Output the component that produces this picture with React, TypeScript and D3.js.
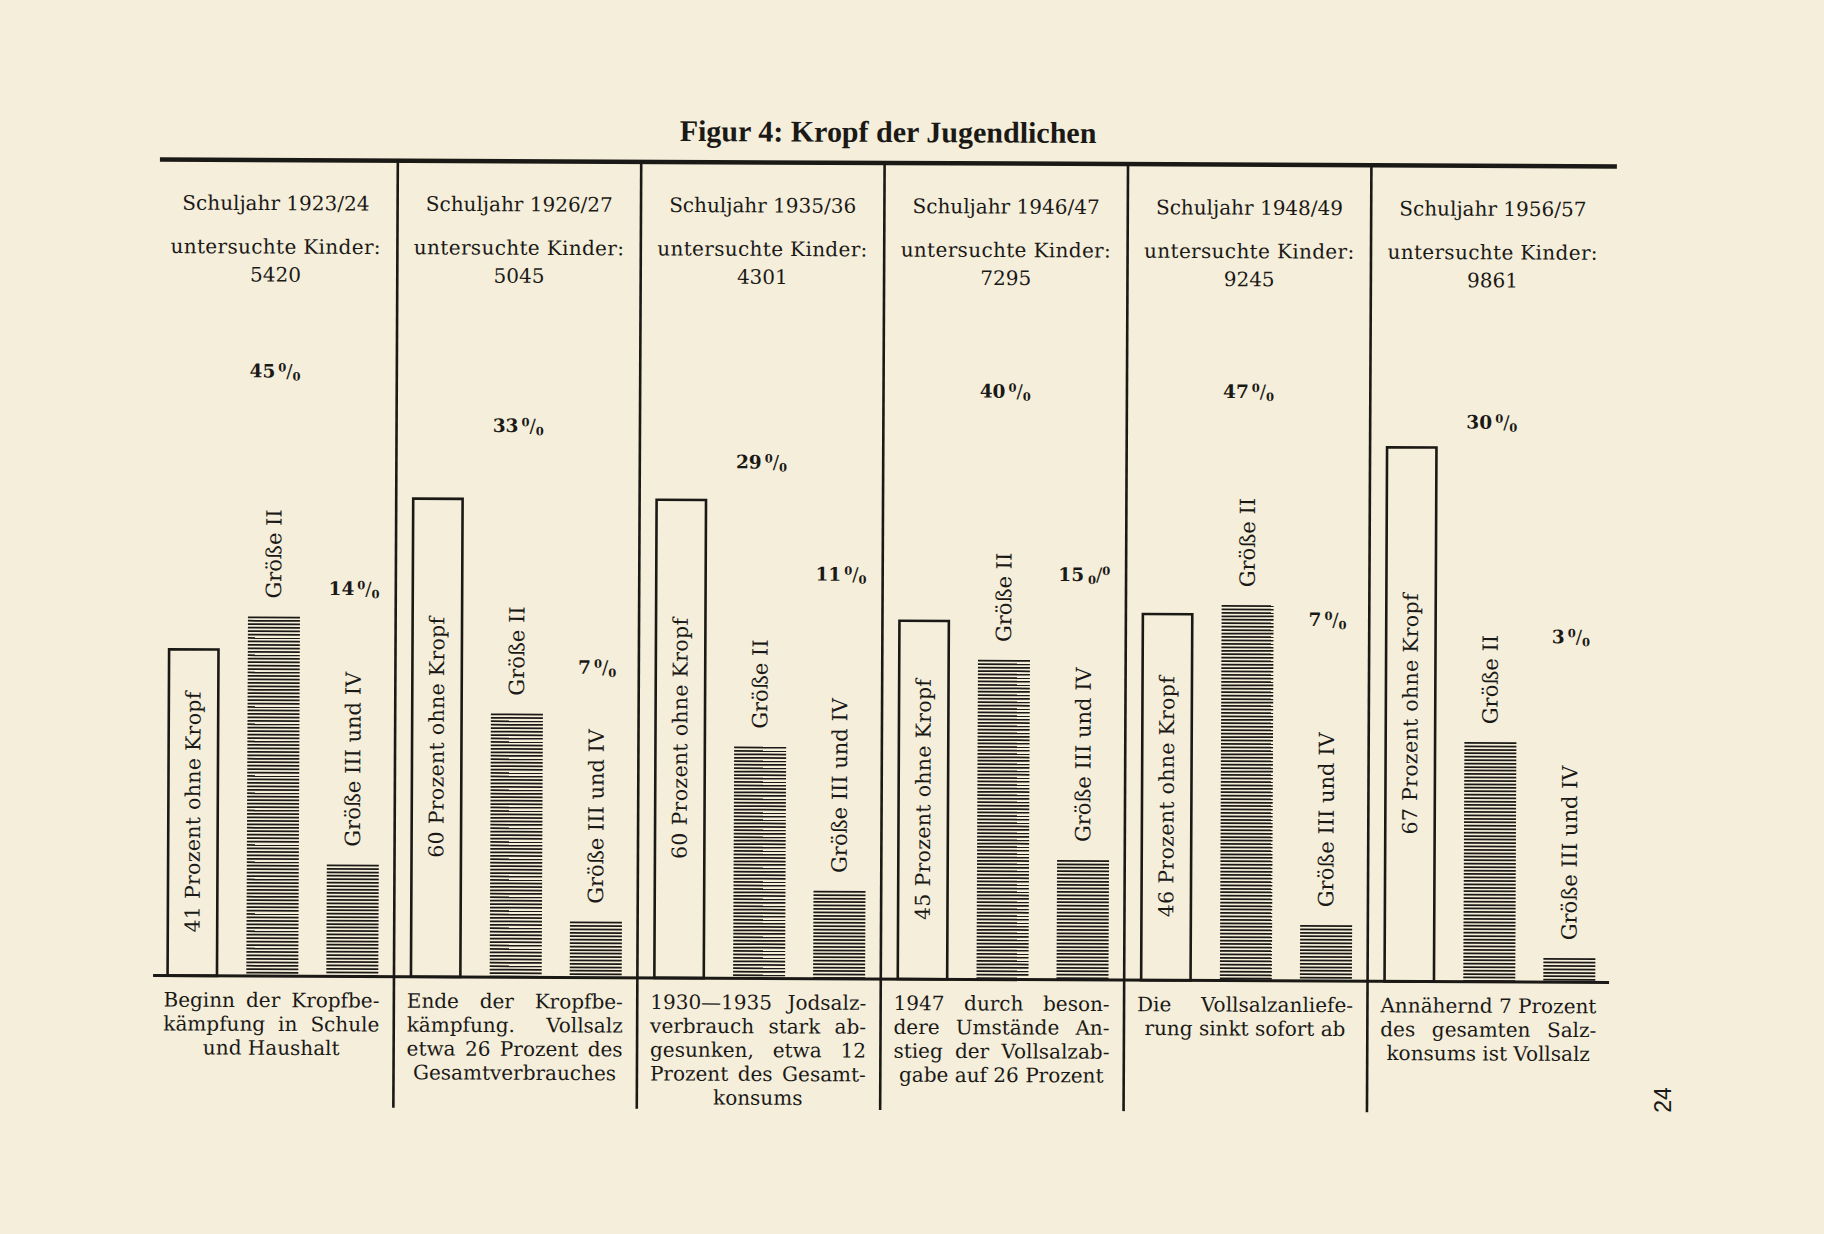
import React, { useEffect, useRef } from "react";
import * as d3 from "d3";

// ---------- data ----------
const years = ["1923/24", "1926/27", "1935/36", "1946/47", "1948/49", "1956/57"];
const childrenExamined = [5420, 5045, 4301, 7295, 9245, 9861];
const categories = ["ohne Kropf", "Größe II", "Größe III und IV"];
const pctOhneKropf = [41, 60, 60, 45, 46, 67];
const pctGroesse2 = [45, 33, 29, 40, 47, 30];
const pctGroesse34 = [14, 7, 11, 15, 7, 3];
const notes: string[][] = [
  ["Beginn der Kropfbe-", "kämpfung in Schule", "und Haushalt"],
  ["Ende der Kropfbe-", "kämpfung. Vollsalz", "etwa 26 Prozent des", "Gesamtverbrauches"],
  ["1930—1935 Jodsalz-", "verbrauch stark ab-", "gesunken, etwa 12", "Prozent des Gesamt-", "konsums"],
  ["1947 durch beson-", "dere Umstände An-", "stieg der Vollsalzab-", "gabe auf 26 Prozent"],
  ["Die Vollsalzanliefe-", "rung sinkt sofort ab"],
  ["Annähernd 7 Prozent", "des gesamten Salz-", "konsums ist Vollsalz"],
];
// level (in percent units of the y scale) where the printed percentage labels sit
const pctLabelLevelG2 = [75.8, 69.1, 64.7, 73.7, 73.8, 70.1];
const pctLabelLevelG34 = [48.6, 38.9, 50.7, 50.8, 45.3, 43.3];
// the 1946/47 small-goitre label is misprinted as "15 ₀/⁰" in the original
const pctSignInverted = [false, false, false, true, false, false];

const TITLE = "Figur 4: Kropf der Jugendlichen";
const PAGE_NO = "24";

// ---------- layout / style ----------
const W = 1824;
const H = 1234;
const PAPER = "#f4eedb";
const INK = "#1b1916";
const SERIF = "'DejaVu Serif', serif";
const FS = 20;
const TILT = 0.27;
const CX = 886;
const CY = 570;
const X0 = 152.5;
const PANEL_W = 243.4;
const TOP_Y = 163;
const BASE = 979;
const DIV_BOTTOM = 1110;
const PX_PER_PCT = 7.99;

export default function App() {
  const ref = useRef<SVGSVGElement>(null);

  useEffect(() => {
    const svg = d3.select(ref.current);
    svg.selectAll("*").remove();
    svg.append("rect").attr("width", W).attr("height", H).attr("fill", PAPER);

    const g = svg.append("g").attr("transform", `rotate(${TILT} ${CX} ${CY})`);

    const x = d3.scaleBand<string>().domain(years).range([X0, X0 + PANEL_W * years.length]);
    const xi = d3
      .scaleBand<string>()
      .domain(categories)
      .range([0, x.bandwidth()])
      .paddingInner(0.35)
      .paddingOuter(0.196);
    const y = d3.scaleLinear().domain([0, 100]).range([BASE, BASE - 100 * PX_PER_PCT]);
    const bw = xi.bandwidth();

    // title
    g.append("text")
      .attr("x", CX)
      .attr("y", 142)
      .attr("text-anchor", "middle")
      .attr("font-family", "'Liberation Serif', serif")
      .attr("font-weight", "bold")
      .attr("font-size", 30)
      .attr("fill", INK)
      .text(TITLE);

    // frame lines
    g.append("line")
      .attr("x1", 158).attr("x2", 1615).attr("y1", TOP_Y).attr("y2", TOP_Y)
      .attr("stroke", INK).attr("stroke-width", 4.5);
    g.append("line")
      .attr("x1", 155).attr("x2", 1611).attr("y1", BASE).attr("y2", BASE)
      .attr("stroke", INK).attr("stroke-width", 3);
    years.slice(1).forEach((yr) => {
      const xx = x(yr)!;
      g.append("line")
        .attr("x1", xx).attr("x2", xx).attr("y1", TOP_Y).attr("y2", DIV_BOTTOM)
        .attr("stroke", INK).attr("stroke-width", 2.6);
    });

    const txt = (sel: d3.Selection<any, any, any, any>) =>
      sel.attr("font-family", SERIF).attr("fill", INK).attr("font-size", FS);

    years.forEach((yr, i) => {
      const px = x(yr)!;
      const pc = px + x.bandwidth() / 2;

      // header
      txt(g.append("text")).attr("x", pc).attr("y", 213).attr("text-anchor", "middle")
        .text(`Schuljahr ${yr}`);
      txt(g.append("text")).attr("x", pc).attr("y", 256.5).attr("text-anchor", "middle")
        .attr("letter-spacing", 0.35)
        .text("untersuchte Kinder:");
      txt(g.append("text")).attr("x", pc).attr("y", 284.5).attr("text-anchor", "middle")
        .text(String(childrenExamined[i]));

      // open box: ohne Kropf
      const bx = px + xi(categories[0])!;
      const v0 = pctOhneKropf[i];
      g.append("rect")
        .attr("x", bx + 1.3)
        .attr("y", y(v0) + 1.3)
        .attr("width", bw - 2.6)
        .attr("height", BASE - y(v0) - 1.3)
        .attr("fill", "none")
        .attr("stroke", INK)
        .attr("stroke-width", 2.6);
      txt(g.append("text"))
        .attr("transform", `translate(${bx + bw / 2},${(y(v0) + BASE) / 2}) rotate(-90)`)
        .attr("text-anchor", "middle")
        .attr("dominant-baseline", "central")
        .attr("font-size", 20.5)
        .attr("letter-spacing", 0.3)
        .text(`${v0} Prozent ohne Kropf`);

      // hatched bars
      const hatched = [
        { cat: categories[1], v: pctGroesse2[i], level: pctLabelLevelG2[i], inv: false },
        { cat: categories[2], v: pctGroesse34[i], level: pctLabelLevelG34[i], inv: pctSignInverted[i] },
      ];
      hatched.forEach((h) => {
        const hx = px + xi(h.cat)!;
        const top = y(h.v);
        const rows = d3.range(top + 0.85, BASE - 0.5, 3.45);
        g.append("g")
          .selectAll("line")
          .data(rows)
          .join("line")
          .attr("x1", hx)
          .attr("x2", hx + bw)
          .attr("y1", (d) => d)
          .attr("y2", (d) => d)
          .attr("stroke", INK)
          .attr("stroke-width", 1.75);

        txt(g.append("text"))
          .attr("transform", `translate(${hx + bw / 2},${top - 18}) rotate(-90)`)
          .attr("text-anchor", "start")
          .attr("dominant-baseline", "central")
          .attr("font-size", 21)
          .text(h.cat);

        const t = txt(g.append("text"))
          .attr("x", hx + bw / 2)
          .attr("y", y(h.level) + 7)
          .attr("text-anchor", "middle")
          .attr("font-weight", "bold")
          .attr("font-size", 18.5);
        t.append("tspan").text(`${h.v}`);
        if (!h.inv) {
          t.append("tspan").attr("dx", 3).attr("dy", -6).attr("font-size", 11.5).text("0");
          t.append("tspan").attr("dy", 6).attr("font-weight", "normal").text("/");
          t.append("tspan").attr("dy", 3).attr("font-size", 11.5).text("0");
        } else {
          t.append("tspan").attr("dx", 4).attr("dy", 3).attr("font-size", 11.5).text("0");
          t.append("tspan").attr("dy", -3).attr("font-weight", "normal").text("/");
          t.append("tspan").attr("dy", -6).attr("font-size", 11.5).text("0");
        }
      });

      // footnote, justified
      const colL = px + 13;
      const colW = 216;
      notes[i].forEach((line, li) => {
        const isLast = li === notes[i].length - 1;
        const ty = 1010 + li * 23.85;
        const t = txt(g.append("text")).attr("y", ty).text(line);
        if (isLast) {
          t.attr("x", colL + colW / 2).attr("text-anchor", "middle");
        } else {
          t.attr("x", colL).attr("text-anchor", "start");
          const node = t.node() as SVGTextElement;
          const w = node.getComputedTextLength();
          const spaces = (line.match(/ /g) || []).length;
          if (spaces > 0) t.attr("word-spacing", (colW - w) / spaces);
        }
      });
    });

    // page number
    svg.append("text")
      .attr("transform", "translate(1663,1100) rotate(-90)")
      .attr("text-anchor", "middle")
      .attr("dominant-baseline", "central")
      .attr("font-family", "'Liberation Sans', sans-serif")
      .attr("font-size", 23)
      .attr("fill", INK)
      .text(PAGE_NO);
  }, []);

  return (
    <svg
      ref={ref}
      width={W}
      height={H}
      style={{ position: "absolute", left: 0, top: 0, display: "block" }}
    />
  );
}
